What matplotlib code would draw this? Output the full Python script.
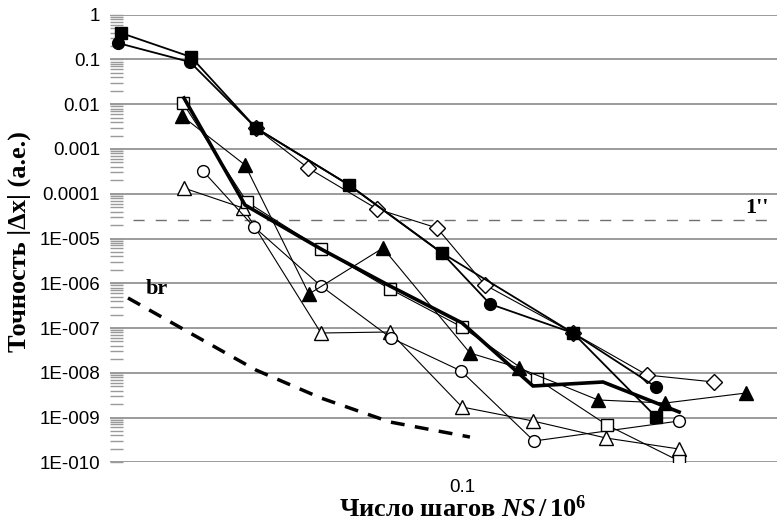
import matplotlib
matplotlib.use("Agg")
import matplotlib.pyplot as plt
from matplotlib.ticker import LogLocator, NullFormatter, NullLocator

plt.rcParams['mathtext.fontset'] = 'custom'
plt.rcParams['mathtext.rm'] = 'Liberation Serif:bold'
plt.rcParams['mathtext.it'] = 'Liberation Serif:bold:italic'
plt.rcParams['mathtext.bf'] = 'Liberation Serif:bold'

# ---------------- data ----------------
sq_fill_x = [0.01848, 0.02614, 0.03606, 0.05715, 0.09057, 0.1733, 0.2614]
sq_fill_y = [0.390, 0.1135, 0.00294, 1.57e-4, 4.74e-6, 7.74e-8, 1.03e-9]

circ_fill_x = [0.0182, 0.0260, 0.03606, 0.05715, 0.09057, 0.1149, 0.1733, 0.2614]
circ_fill_y = [0.233, 0.0878, 0.00294, 1.57e-4, 4.74e-6, 3.44e-7, 7.74e-8, 4.81e-9]

diam_x = [0.03606, 0.04665, 0.06566, 0.08835, 0.1121, 0.1733, 0.2500, 0.3483]
diam_y = [0.00294, 3.76e-4, 4.56e-5, 1.72e-5, 9.15e-7, 7.74e-8, 8.92e-9, 6.22e-9]

sq_open_x = [0.0251, 0.03448, 0.04974, 0.0700, 0.1, 0.1450, 0.2050, 0.2930]
sq_open_y = [0.01065, 6.54e-5, 5.83e-6, 7.44e-7, 1.05e-7, 7.26e-9, 6.81e-10, 1.07e-10]

tri_fill_x = [0.02499, 0.03415, 0.04688, 0.06761, 0.1040, 0.1326, 0.1961, 0.2733, 0.4081]
tri_fill_y = [0.00546, 4.39e-4, 5.76e-7, 6.13e-6, 2.77e-8, 1.28e-8, 2.47e-9, 2.11e-9, 3.53e-9]

tri_open_x = [0.02524, 0.03381, 0.04974, 0.0700, 0.1, 0.1421, 0.2040, 0.2930]
tri_open_y = [1.34e-4, 4.80e-5, 7.74e-8, 8.15e-8, 1.72e-9, 8.37e-10, 3.49e-10, 1.98e-10]

circ_open_x = [0.02773, 0.03571, 0.04974, 0.07037, 0.0995, 0.1428, 0.2930]
circ_open_y = [3.22e-4, 1.81e-5, 8.69e-7, 5.98e-8, 1.10e-8, 2.99e-10, 8.37e-10]

thick_x = [0.02524, 0.03415, 0.04974, 0.0700, 0.1, 0.1421, 0.2010, 0.2930]
thick_y = [0.01377, 5.60e-5, 5.83e-6, 8.69e-7, 1.30e-7, 5.07e-9, 6.22e-9, 1.33e-9]

br_x = [0.01913, 0.02601, 0.03606, 0.04974, 0.0700, 0.1040]
br_y = [4.69e-7, 7.74e-8, 1.15e-8, 2.73e-9, 7.95e-10, 3.67e-10]

arcsec_level = 2.59e-5
arcsec_x = [0.0196, 0.4757]

y_ticks = [1, 0.1, 0.01, 0.001, 0.0001, 1e-5, 1e-6, 1e-7, 1e-8, 1e-9, 1e-10]
y_tick_labels = ["1", "0.1", "0.01", "0.001", "0.0001", "1E-005", "1E-006",
                 "1E-007", "1E-008", "1E-009", "1E-010"]
x_ticks = [0.1]
x_tick_labels = ["0.1"]

# ---------------- figure ----------------
W, H = 777, 521
fig = plt.figure(figsize=(W / 100, H / 100), dpi=100)
ax = fig.add_axes([110 / W, (H - 462.3) / H, (W - 110) / W, (462.3 - 14.7) / H])
ax.set_xscale('log')
ax.set_yscale('log')
ax.set_xlim(0.01750, 0.4757)
ax.set_ylim(1e-10, 1)

for s in ax.spines.values():
    s.set_visible(False)

# gridlines
for v in y_ticks:
    ax.axhline(v, color='#808080', lw=1.1, zorder=0)

# 1'' level
ax.plot(arcsec_x, [arcsec_level] * 2, color='#707070', lw=1.0,
        dashes=(8, 8), zorder=1)

thin = dict(color='black', lw=0.8, zorder=3)
open_m = dict(mfc='white', mec='black', mew=1.0)

ax.plot(tri_open_x, tri_open_y, marker='^', ms=10, **open_m, **thin)
ax.plot(circ_open_x, circ_open_y, marker='o', ms=8.5, **open_m, **thin)
ax.plot(sq_open_x, sq_open_y, marker='s', ms=8, **open_m, **thin)
ax.plot(tri_fill_x, tri_fill_y, marker='^', ms=10, mfc='black', mec='black', **thin)
ax.plot(diam_x, diam_y, marker='D', ms=8, **open_m, **thin)
ax.plot(circ_fill_x, circ_fill_y, marker='o', ms=8.5, mfc='black', mec='black',
        color='black', lw=1.3, zorder=4)
ax.plot(sq_fill_x, sq_fill_y, marker='s', ms=8, mfc='black', mec='black',
        color='black', lw=1.3, zorder=4)

ax.plot(thick_x, thick_y, color='black', lw=2.6, zorder=5, solid_joinstyle='miter')
ax.plot(br_x, br_y, color='black', lw=2.5, dashes=(4, 3), zorder=5)

ax.text(0.02208, 7.4e-7, 'br', family='Liberation Serif', weight='bold',
        fontsize=16, ha='center', va='center')
ax.text(0.4309, 4.8e-5, "1''", family='Liberation Serif', weight='bold',
        fontsize=16, ha='center', va='center')

# ticks
ax.set_yticks(y_ticks)
ax.set_yticklabels(y_tick_labels)
ax.yaxis.set_minor_locator(LogLocator(base=10, subs=range(2, 10), numticks=20))
ax.yaxis.set_minor_formatter(NullFormatter())
ax.tick_params(axis='y', which='both', direction='in', length=9, width=1.0,
               color='#9a9a9a', pad=7, labelsize=13.5)
for lab in ax.get_yticklabels():
    lab.set_family('Liberation Sans')

ax.set_xticks(x_ticks)
ax.set_xticklabels(x_tick_labels)
ax.xaxis.set_minor_locator(NullLocator())
ax.tick_params(axis='x', which='both', length=0, pad=12, labelsize=13.5)
for lab in ax.get_xticklabels():
    lab.set_family('Liberation Sans')

ax.set_xlabel(r'Число шагов $\it{NS}\rm{\,/\,10^6}$', family='Liberation Serif',
              weight='bold', fontsize=19)
ax.xaxis.set_label_coords((463 - 110) / (W - 110), -(509 - 462.3) / (462.3 - 14.7))
ax.xaxis.label.set_va('center')
ax.set_ylabel('Точность |Δx| (а.е.)', family='Liberation Serif', weight='bold',
              fontsize=19)
ax.yaxis.set_label_coords(-(110 - 19) / (W - 110), (462.3 - 242) / (462.3 - 14.7))
ax.yaxis.label.set_va('center')

fig.savefig('out.png', dpi=100)
